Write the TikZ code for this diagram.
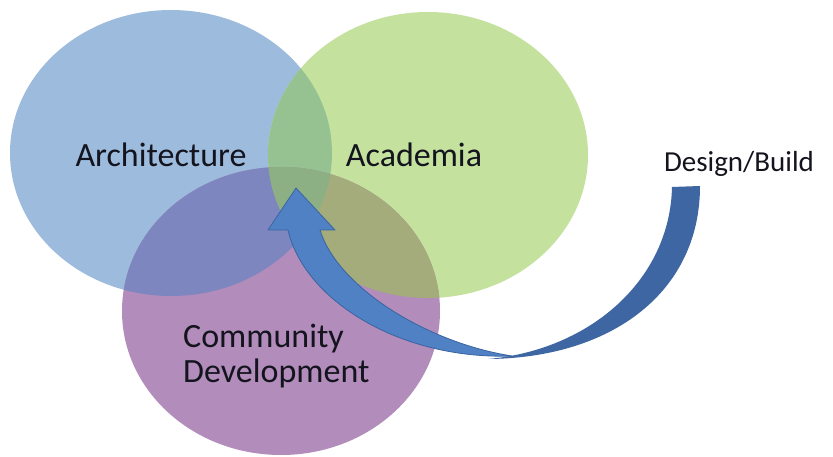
\documentclass[tikz,border=0pt]{standalone}
\usepackage{fontspec}
\setmainfont{Carlito}
\definecolor{cB}{RGB}{157,187,221}
\definecolor{cG}{RGB}{196,226,158}
\definecolor{cP}{RGB}{178,140,186}
\definecolor{cBG}{RGB}{150,194,146}
\definecolor{cBP}{RGB}{125,134,190}
\definecolor{cGP}{RGB}{163,172,122}
\definecolor{cBGP}{RGB}{140,176,132}
\definecolor{arrFront}{RGB}{79,129,196}
\definecolor{arrEdge}{RGB}{58,100,160}
\definecolor{arrBack}{RGB}{62,102,162}
\definecolor{txt}{RGB}{20,20,30}
\tikzset{
  pB/.style={insert path={(171,153) ellipse [x radius=161pt, y radius=143pt]}},
  pG/.style={insert path={(428,155) ellipse [x radius=160pt, y radius=143pt]}},
  pP/.style={insert path={(281,311) ellipse [x radius=159pt, y radius=144pt]}},
  lbl/.style={text=txt, inner sep=0pt, font=\fontsize{34}{35}\selectfont},
}
\begin{document}
\begin{tikzpicture}[x=1pt,y=-1pt]
\useasboundingbox (0,0) rectangle (833,457);
\fill[white] (0,0) rectangle (833,457);
% circles
\fill[cB, pB];
\fill[cG, pG];
\fill[cP, pP];
\begin{scope}
  \clip[pB];
  \fill[cBG, pG];
  \fill[cBP, pP];
\end{scope}
\begin{scope}
  \clip[pG];
  \fill[cGP, pP];
\end{scope}
\begin{scope}
  \clip[pB];
  \clip[pG];
  \fill[cBGP, pP];
\end{scope}
% curved arrow: back face
\fill[arrBack] (672,187) -- (700,186)
  .. controls (700,292) and (612,358) .. (488,359)
  .. controls (590,350) and (670,280) .. (672,187) -- cycle;
% curved arrow: front face
\filldraw[fill=arrFront, draw=arrEdge, line width=0.8pt, line join=round]
  (296,188) -- (335,230) -- (320,230)
  .. controls (338,288) and (428,343) .. (512,356)
  .. controls (400,360) and (304,300) .. (288,230)
  -- (268,230) -- cycle;
% labels
\node[lbl, anchor=base] (arch) at (161,167) {Architecture};
\node[lbl, anchor=base] (acad) at (414,167) {Academia};
\node[lbl, anchor=base west, align=left] (comm) at (183,382) {Community\\Development};
\node[lbl, anchor=base, font=\fontsize{29}{30}\selectfont] (db) at (739,172) {Design/Build};
\end{tikzpicture}
\end{document}
